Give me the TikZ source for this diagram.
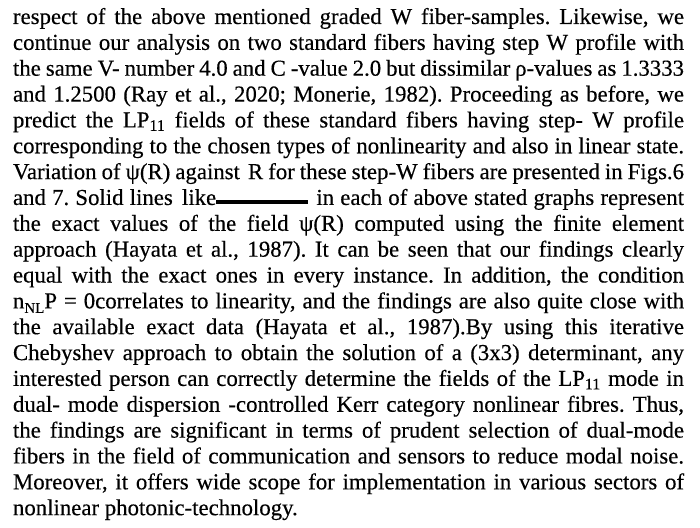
\documentclass[tikz,border=0pt]{standalone}
\usepackage{fontspec}
\setmainfont[FakeStretch=1.0,FakeBold=0.35]{Liberation Serif}
\newlength\LW
\setlength\LW{671pt}
\newcommand\jline[1]{\hbox to \LW{\frenchspacing\spaceskip=0.25em plus 1.5em minus 0.1em\relax #1}}
\newcommand\nline[1]{\hbox{\frenchspacing #1}}
\newcommand\LPe{LP\textsubscript{11}}
\newcommand\nNL{n\raisebox{-4.5pt}{\fontsize{15}{15}\selectfont NL}}
\tikzset{txtline/.style={anchor=base west, inner sep=0pt, outer sep=0pt, font=\fontsize{22.8}{26}\selectfont}}
\begin{document}
\begin{tikzpicture}[x=1pt,y=-1pt]
\useasboundingbox (0,0) rectangle (700,527);
\fill[white] (0,0) rectangle (700,527);
\node[txtline] (l1) at (13,24) {\jline{respect of the above mentioned graded W fiber-samples. Likewise, we}};
\node[txtline] (l2) at (13,49.85) {\jline{continue our analysis on two standard fibers having step W profile with}};
\node[txtline] (l3) at (13,75.7) {\jline{the same V- number 4.0 and C -value 2.0 but dissimilar ρ-values as 1.3333}};
\node[txtline] (l4) at (13,101.55) {\jline{and 1.2500 (Ray et al., 2020; Monerie, 1982). Proceeding as before, we}};
\node[txtline] (l5) at (13,127.4) {\jline{predict the \LPe{} fields of these standard fibers having step- W profile}};
\node[txtline] (l6) at (13,153.25) {\jline{corresponding to the chosen types of nonlinearity and also in linear state.}};
\node[txtline] (l7) at (13,179.1) {\jline{Variation of ψ(R) against\hspace{3pt} R for these step-W fibers are presented in Figs.6}};
\node[txtline] (l8) at (13,204.95) {\jline{and 7. Solid lines\hspace{3pt} like\rule[0.5pt]{92pt}{4pt}\hspace{2pt} in each of above stated graphs represent}};
\node[txtline] (l9) at (13,230.8) {\jline{the exact values of the field ψ(R) computed using the finite element}};
\node[txtline] (l10) at (13,256.65) {\jline{approach (Hayata et al., 1987). It can be seen that our findings clearly}};
\node[txtline] (l11) at (13,282.5) {\jline{equal with the exact ones in every instance. In addition, the condition}};
\node[txtline] (l12) at (13,308.35) {\jline{\nNL P = 0correlates to linearity, and the findings are also quite close with}};
\node[txtline] (l13) at (13,334.2) {\jline{the available exact data (Hayata et al., 1987).By using this iterative}};
\node[txtline] (l14) at (13,360.05) {\jline{Chebyshev approach to obtain the solution of a (3x3) determinant, any}};
\node[txtline] (l15) at (13,385.9) {\jline{interested person can correctly determine the fields of the \LPe{} mode in}};
\node[txtline] (l16) at (13,411.75) {\jline{dual- mode dispersion -controlled Kerr category nonlinear fibres. Thus,}};
\node[txtline] (l17) at (13,437.6) {\jline{the findings are significant in terms of prudent selection of dual-mode}};
\node[txtline] (l18) at (13,463.45) {\jline{fibers in the field of communication and sensors to reduce modal noise.}};
\node[txtline] (l19) at (13,489.3) {\jline{Moreover, it offers wide scope for implementation in various sectors of}};
\node[txtline] (l20) at (13,515.15) {\nline{nonlinear photonic-technology.}};
\end{tikzpicture}
\end{document}
